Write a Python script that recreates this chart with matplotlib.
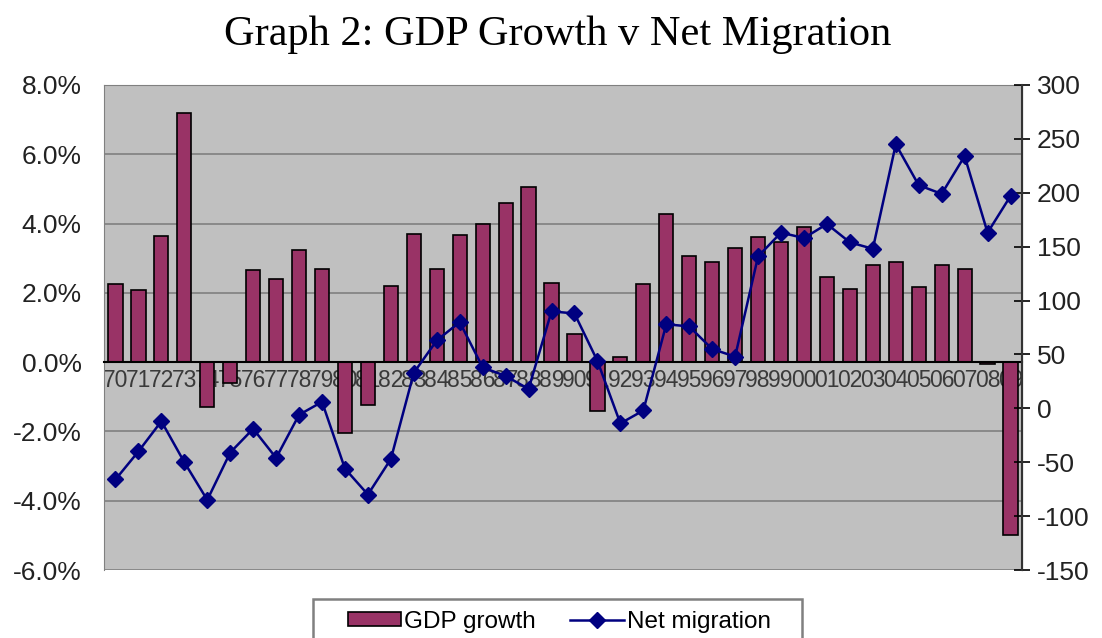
import matplotlib.pyplot as plt
from matplotlib.patches import Rectangle
from matplotlib.ticker import PercentFormatter, MultipleLocator

years = ["70", "71", "72", "73", "74", "75", "76", "77", "78", "79",
         "80", "81", "82", "83", "84", "85", "86", "87", "88", "89",
         "90", "91", "92", "93", "94", "95", "96", "97", "98", "99",
         "00", "01", "02", "03", "04", "05", "06", "07", "08", "09"]

gdp_growth = [2.25, 2.08, 3.64, 7.2, -1.3, -0.6, 2.66, 2.4, 3.23, 2.7,
              -2.05, -1.24, 2.2, 3.7, 2.7, 3.67, 4.0, 4.6, 5.05, 2.28,
              0.8, -1.4, 0.15, 2.25, 4.27, 3.06, 2.9, 3.3, 3.6, 3.46,
              3.9, 2.45, 2.1, 2.8, 2.9, 2.17, 2.8, 2.68, -0.05, -5.0]

net_migration = [-66, -40, -12, -50, -85, -41, -19, -46, -6, 6,
                 -56, -80, -47, 33, 63, 80, 38, 30, 18, 90,
                 88, 44, -14, -2, 78, 76, 55, 48, 141, 163,
                 158, 171, 154, 148, 245, 207, 199, 234, 163, 197]

W, H = 1102, 638


def main():
    plt.rcParams["font.family"] = ["Liberation Sans", "DejaVu Sans"]
    plt.rcParams["axes.unicode_minus"] = False
    fig = plt.figure(figsize=(W / 100, H / 100), dpi=100)
    ax = fig.add_axes([104 / W, 1 - 570 / H, 918 / W, 485 / H])
    ax2 = ax.twinx()

    x = list(range(len(years)))
    gdp = [v / 100 for v in gdp_growth]

    ax.set_facecolor("#C0C0C0")
    ax.bar(x, gdp, width=0.62, color="#993366", edgecolor="black",
           linewidth=1.2, label="GDP growth", zorder=3)
    ax.set_xlim(-0.5, len(years) - 0.5)
    ax.set_ylim(-0.06, 0.08)
    ax.yaxis.set_major_locator(MultipleLocator(0.02))
    ax.yaxis.set_major_formatter(PercentFormatter(1, decimals=1))
    ax.grid(axis="y", color="#808080", linewidth=1.2, zorder=0)
    ax.tick_params(axis="y", length=0, labelsize=19, pad=16, labelcolor="#222222")

    # category axis crosses at zero
    ax.spines["bottom"].set_position(("data", 0))
    ax.spines["bottom"].set_color("black")
    ax.spines["bottom"].set_linewidth(1.5)
    ax.spines["bottom"].set_zorder(4)
    ax.set_xticks(x)
    ax.set_xticklabels(years)
    ax.tick_params(axis="x", length=0, labelsize=16.5, pad=5, labelcolor="#3a3a3a")
    for side in ["left", "top"]:
        ax.spines[side].set_color("#808080")

    ax2.plot(x, net_migration, color="#000080", linewidth=1.8, marker="D",
             markersize=8.5, label="Net migration", zorder=5)
    ax2.set_ylim(-150, 300)
    ax2.yaxis.set_major_locator(MultipleLocator(50))
    ax2.tick_params(axis="y", direction="inout", length=11, width=1.2,
                    labelsize=19, pad=5, labelcolor="#222222")
    ax2.spines["right"].set_color("#333333")
    ax2.spines["right"].set_linewidth(1.5)
    for side in ["left", "top", "bottom"]:
        ax2.spines[side].set_visible(False)

    fig.text(0.506, 1 - 35 / H, "Graph 2: GDP Growth v Net Migration",
             family="Liberation Serif", fontsize=30.5, ha="center", va="center")

    # legend box runs off the bottom edge like the original
    fig.patches.append(Rectangle((313 / W, -0.05), (802 - 313) / W, 0.05 + 1 - 599 / H,
                                 transform=fig.transFigure, facecolor="white",
                                 edgecolor="#808080", linewidth=1.8))
    h1, l1 = ax.get_legend_handles_labels()
    h2, l2 = ax2.get_legend_handles_labels()
    fig.legend(h1 + h2, l1 + l2, loc="center left",
               bbox_to_anchor=(348 / W, 1 - 622 / H), ncol=2,
               fontsize=17.5, frameon=False, borderpad=0, borderaxespad=0,
               handlelength=2.2, handleheight=0.5, columnspacing=1.4,
               handletextpad=0.12)

    fig.savefig("out.png", dpi=100)


if __name__ == "__main__":
    main()
